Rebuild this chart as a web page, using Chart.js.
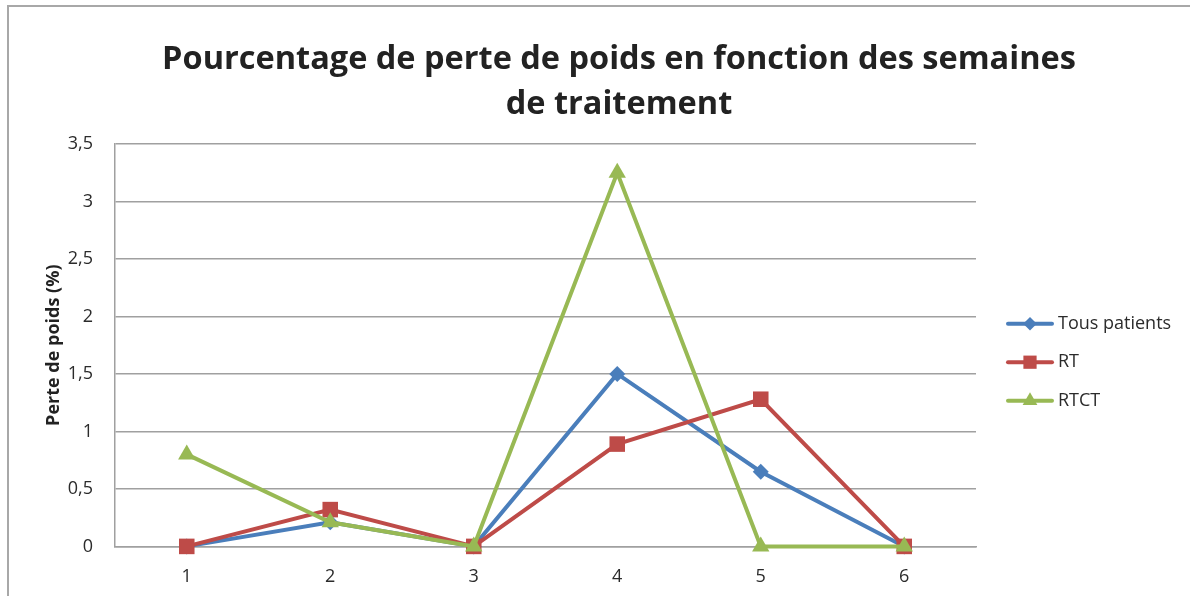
<!DOCTYPE html>
<html lang="fr">
<head>
<meta charset="UTF-8">
<title>Pourcentage de perte de poids</title>
<script src="https://cdn.jsdelivr.net/npm/chart.js"></script>
<style>
  html, body { margin: 0; padding: 0; background: #fff; overflow: hidden; }
  .cadre { position: absolute; left: 7px; top: 5px; width: 1220px; height: 610px; border: 2px solid #a8a8a8; }
  canvas { display: block; }
</style>
</head>
<body>
<div class="cadre"><canvas id="poidsChart" width="1220" height="610"></canvas></div>
<script>
// données
const semaines = ['1', '2', '3', '4', '5', '6'];
const tousPatients = [0, 0.21, 0, 1.5, 0.65, 0];
const rt = [0, 0.32, 0, 0.89, 1.28, 0];
const rtct = [0.8, 0.21, 0, 3.25, 0, 0];
const nomsSeries = ['Tous patients', 'RT', 'RTCT'];
const yMin = 0, yMax = 3.5, yPas = 0.5;

const couleurs = ['#4a7ebb', '#be4b48', '#98b954'];
const formes = ['rectRot', 'rect', 'triangle'];
const rayons = [8, 11, 10];
const police = '"Open Sans", sans-serif';

function dessinerMarqueur(ctx, forme, x, y, r) {
    ctx.beginPath();
    if (forme === 'rectRot') {
        ctx.moveTo(x - r, y); ctx.lineTo(x, y - r); ctx.lineTo(x + r, y); ctx.lineTo(x, y + r);
    } else if (forme === 'rect') {
        const s = r * Math.SQRT1_2;
        ctx.rect(x - s, y - s, 2 * s, 2 * s);
    } else {
        for (let k = 0; k < 3; k++) {
            const a = k * 2 * Math.PI / 3;
            ctx.lineTo(x + Math.sin(a) * r, y - Math.cos(a) * r);
        }
    }
    ctx.closePath();
    ctx.fill();
}

// légende façon Excel : trait + marqueur
const legendeExcel = {
    id: 'legendeExcel',
    afterDraw(chart) {
        const { ctx, chartArea } = chart;
        const milieu = (chartArea.top + chartArea.bottom) / 2 + 17;
        chart.data.datasets.forEach((ds, i) => {
            const y = milieu + (i - 1) * 38.5;
            const x0 = chartArea.right + 32;
            ctx.save();
            ctx.strokeStyle = ds.borderColor;
            ctx.fillStyle = ds.backgroundColor;
            ctx.lineWidth = 4;
            ctx.lineCap = 'round';
            ctx.beginPath();
            ctx.moveTo(x0, y);
            ctx.lineTo(x0 + 44, y);
            ctx.stroke();
            dessinerMarqueur(ctx, ds.pointStyle, x0 + 22, y, ds.pointRadius * 0.85);
            ctx.fillStyle = '#2b2b2b';
            ctx.font = '18px ' + police;
            ctx.textBaseline = 'middle';
            ctx.fillText(ds.label, x0 + 50, y);
            ctx.restore();
        });
    }
};

const series = [tousPatients, rt, rtct];
const ordres = [2, 1, 0];

new Chart(document.getElementById('poidsChart'), {
    type: 'line',
    data: {
        labels: semaines,
        datasets: series.map((valeurs, i) => ({
            label: nomsSeries[i],
            data: valeurs,
            borderColor: couleurs[i],
            backgroundColor: couleurs[i],
            borderWidth: 4,
            pointStyle: formes[i],
            pointRadius: rayons[i],
            pointHoverRadius: rayons[i],
            pointBorderWidth: 0,
            tension: 0,
            fill: false,
            clip: false,
            order: ordres[i]
        }))
    },
    options: {
        responsive: false,
        animation: false,
        layout: { padding: { left: 34, right: 34, top: 0, bottom: 9 } },
        plugins: {
            legend: { display: false },
            tooltip: { enabled: false },
            title: {
                display: true,
                text: ['Pourcentage de perte de poids en fonction des semaines', 'de traitement'],
                color: '#222',
                font: { family: police, size: 32.5, weight: 'bold', lineHeight: 45 / 32.5 },
                padding: { top: 30, bottom: 17 }
            }
        },
        scales: {
            x: {
                offset: true,
                grid: { display: false, drawTicks: false },
                border: { display: true, color: '#a0a0a0', width: 1.5 },
                ticks: { padding: 20, color: '#2b2b2b', font: { family: police, size: 18 } }
            },
            y: {
                min: yMin,
                max: yMax,
                ticks: {
                    stepSize: yPas,
                    padding: 22,
                    color: '#2b2b2b',
                    font: { family: police, size: 18 },
                    callback: v => String(v).replace('.', ',')
                },
                grid: { color: '#a0a0a0', lineWidth: 1.5, drawTicks: false },
                border: { color: '#a0a0a0', width: 1.5 },
                title: {
                    display: true,
                    text: 'Perte de poids (%)',
                    color: '#222',
                    padding: 0,
                    font: { family: police, size: 18, weight: 'bold' }
                },
                afterFit(s) { s.width = 72; }
            },
            // place réservée à la légende
            place: {
                type: 'linear',
                position: 'right',
                grid: { display: false, drawTicks: false },
                border: { display: false },
                ticks: { display: false },
                afterFit(s) { s.width = 219; }
            }
        }
    },
    plugins: [legendeExcel]
});
</script>
</body>
</html>
